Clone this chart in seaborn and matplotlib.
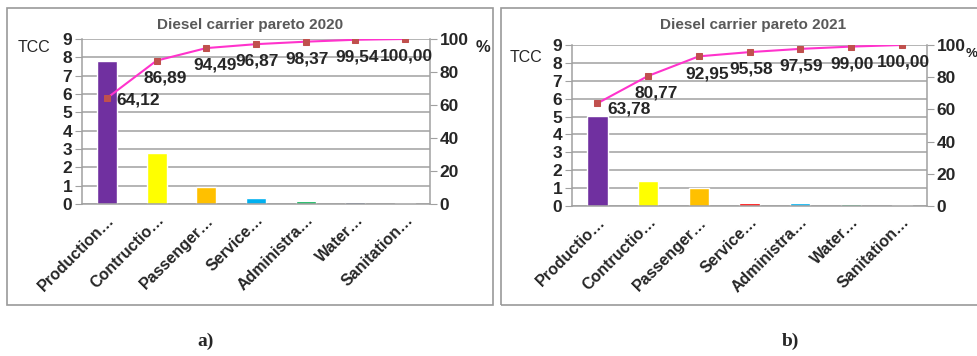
import numpy as np
import pandas as pd
import seaborn as sns
import matplotlib.pyplot as plt
from matplotlib.patches import Rectangle

sns.set_style("white")
plt.rcParams['font.family'] = ['Liberation Sans Narrow', 'Liberation Sans', 'DejaVu Sans']

# data
categories = ['Production…', 'Contructio…', 'Passenger…', 'Service…', 'Administra…', 'Water…', 'Sanitation…']
categories_2021 = ['Productio…', 'Contructio…', 'Passenger…', 'Service…', 'Administra…', 'Water…', 'Sanitation…']
tcc_2020 = [7.8, 2.77, 0.95, 0.3, 0.18, 0.1, 0.03]
tcc_2021 = [5.05, 1.38, 0.98, 0.18, 0.16, 0.11, 0.05]
cum_2020 = [64.12, 86.89, 94.49, 96.87, 98.37, 99.54, 100.00]
cum_2021 = [63.78, 80.77, 92.95, 95.58, 97.59, 99.00, 100.00]
colors_2020 = ['#7030A0', '#FFFF00', '#FFC000', '#00B0F0', '#00B050', '#1F3864', '#A6A6A6']
colors_2021 = ['#7030A0', '#FFFF00', '#FFC000', '#FF0000', '#00B0F0', '#00B050', '#A6A6A6']

fig = plt.figure(figsize=(9.77, 3.56), dpi=100)

# panel frames
for x0, w in [(7, 486), (501, 490)]:
    fig.patches.append(Rectangle((x0 / 977, 1 - 305 / 356), w / 977, 297 / 356,
                                 transform=fig.transFigure, fill=False,
                                 edgecolor='#9a9a9a', linewidth=1.2))


def pareto(rect, cats, vals, cum, colors, title, title_x, first_dy):
    ax = fig.add_axes(rect)
    df = pd.DataFrame({'cat': cats, 'tcc': vals})
    sns.barplot(data=df, x='cat', y='tcc', hue='cat', palette=colors,
                width=0.4, legend=False, ax=ax, saturation=1)
    ax.set_xlim(-0.5, len(cats) - 0.5)
    ax.set_ylim(0, 9)
    ax.set_yticks(range(10))
    ax.yaxis.grid(True, color='#a0a0a0', linewidth=1.1)
    ax.set_axisbelow(True)
    for s in ['left', 'right', 'bottom']:
        ax.spines[s].set_color('#a0a0a0')
        ax.spines[s].set_linewidth(1.1)
    ax.spines['top'].set_visible(False)
    ax.set_xlabel('')
    ax.set_ylabel('')
    ax.tick_params(axis='y', length=5, color='#a0a0a0', labelsize=12.5, pad=2)
    for t in ax.get_yticklabels():
        t.set_fontweight('bold')
    ax.set_xticks(range(len(cats)))
    ax.set_xticklabels(cats, rotation=45, ha='right', rotation_mode='anchor',
                       fontsize=11.5, fontweight='bold', family='Liberation Sans')
    ax.tick_params(axis='x', length=0, pad=6)
    ax.set_xticks(np.arange(-0.5, len(cats)), minor=True)
    ax.tick_params(axis='x', which='minor', length=5, color='#a0a0a0', direction='out')

    ax2 = ax.twinx()
    sns.lineplot(x=np.arange(len(cum)), y=cum, ax=ax2, color='#FF33CC',
                 linewidth=1.5, marker='s', markersize=4,
                 markerfacecolor='#C0504D', markeredgecolor='#C0504D', sort=False)
    ax2.set_ylim(0, 100)
    ax2.set_yticks(range(0, 101, 20))
    ax2.tick_params(axis='y', length=5, color='#a0a0a0', labelsize=12.5, pad=2)
    for t in ax2.get_yticklabels():
        t.set_fontweight('bold')
    for s in ax2.spines.values():
        s.set_visible(False)
    for i, v in enumerate(cum):
        lab = f'{v:.2f}'.replace('.', ',')
        if i == 0:
            ax2.annotate(lab, (i, v), xytext=(7, first_dy), textcoords='offset points',
                         ha='left', va='center', fontsize=12.5, fontweight='bold',
                         color='#262626')
        else:
            ax2.annotate(lab, (i, v), xytext=(6 if i < 3 else 1, -7), textcoords='offset points',
                         ha='center', va='top', fontsize=12.5, fontweight='bold',
                         color='#262626')

    fig.text(title_x / 977, 1 - 25 / 356, title, ha='center', va='center',
             fontsize=11, fontweight='bold', color='#595959', family='Liberation Sans')
    return ax, ax2


pareto([82 / 977, 1 - 204 / 356, 348 / 977, 165 / 356], categories, tcc_2020,
       cum_2020, colors_2020, 'Diesel carrier pareto 2020', 250, -1)
pareto([572 / 977, 1 - 206 / 356, 355 / 977, 161 / 356], categories_2021, tcc_2021,
       cum_2021, colors_2021, 'Diesel carrier pareto 2021', 753, -4)

fig.text(18 / 977, 1 - 47 / 356, 'TCC', ha='left', va='center', fontsize=11.5, family='Liberation Sans')
fig.text(510 / 977, 1 - 57 / 356, 'TCC', ha='left', va='center', fontsize=11.5, family='Liberation Sans')
fig.text(476 / 977, 1 - 48 / 356, '%', ha='left', va='center', fontsize=12, fontweight='bold')
fig.text(966 / 977, 1 - 54 / 356, '%', ha='left', va='center', fontsize=9.5, fontweight='bold')

fig.text(206 / 977, 1 - 341 / 356, 'a)', ha='center', va='center', fontsize=14,
         fontweight='bold', family='Liberation Serif')
fig.text(790 / 977, 1 - 341 / 356, 'b)', ha='center', va='center', fontsize=14,
         fontweight='bold', family='Liberation Serif')

fig.savefig('out.png', dpi=100)
